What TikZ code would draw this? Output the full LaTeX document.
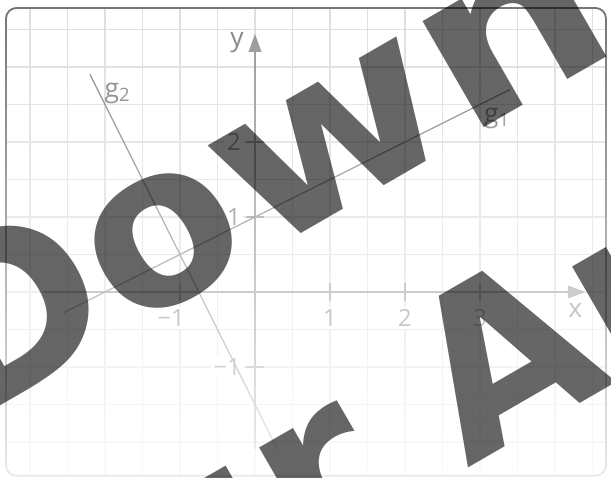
\documentclass[tikz,border=0pt]{standalone}
\usepackage{fontspec}
\setmainfont{Open Sans}
\newfontfamily\wmfont{DejaVu Sans}
\usepackage{xcolor}
\usetikzlibrary{arrows.meta,fadings,positioning}
\definecolor{gridgray}{RGB}{222,222,222}
\definecolor{axisgray}{RGB}{150,150,150}
\definecolor{labelgray}{RGB}{128,128,128}
\definecolor{linegray}{RGB}{130,130,130}
\definecolor{framegray}{RGB}{115,115,115}
\tikzfading[name=fadedown, top color=transparent!100, bottom color=transparent!15]

\begin{document}
\begin{tikzpicture}[
		gridline/.style={gridgray, line width=0.4pt},
		axis/.style={axisgray, line width=0.6pt, -{Triangle[length=2.4mm,width=1.7mm]}},
		tickmark/.style={axisgray, line width=0.5pt},
		ticklabel/.style={labelgray, fill=white, inner sep=1pt, font=\fontsize{9}{9}\selectfont},
		axislabel/.style={labelgray, inner sep=0pt, font=\fontsize{10}{10}\selectfont},
		gline/.style={linegray, line width=0.5pt},
		wm/.style={black, opacity=0.6, inner sep=0pt, anchor=base west, rotate=30, font=\wmfont\bfseries\fontsize{85}{85}\selectfont}]
	\useasboundingbox (-3.4,-2.48) rectangle (4.7467,3.8933);
	\clip (-3.4,-2.48) rectangle (4.7467,3.8933);
	% grid inside the frame
	\begin{scope}
		\clip[rounded corners=4pt] (-3.32,-2.45) rectangle (4.68,3.787);
		\foreach \x in {-3,-2.5,...,4.5} \draw[gridline] (\x,-2.5) -- (\x,3.9);
		\foreach \y in {-2,-1.5,...,3.5} \draw[gridline] (-3.4,\y) -- (4.8,\y);
	\end{scope}
	\draw[framegray, line width=0.7pt, rounded corners=4pt] (-3.32,-2.45) rectangle (4.68,3.787);
	% axes
	\coordinate (xstart) at (-2.83,0);
	\coordinate (xend) at (4.41,0);
	\coordinate (ystart) at (0,-2.1);
	\coordinate (yend) at (0,3.44);
	\draw[axis] (xstart) -- (xend);
	\draw[axis] (ystart) -- (yend);
	\node[axislabel] (xlab) at (4.27,-0.24) {x};
	\node[axislabel] (ylab) at (-0.24,3.32) {y};
	\foreach \x in {-1,1,2,3} \draw[tickmark] (\x,-0.12) -- (\x,0.12);
	\foreach \y in {-1,1,2} \draw[tickmark] (-0.12,\y) -- (0.12,\y);
	\node[ticklabel] (xlm1) at (-1.12,-0.35) {−1};
	\foreach \x in {1,2,3} \node[ticklabel] (xl\x) at (\x,-0.35) {\x};
	\node[ticklabel, anchor=east] (ylm1) at (-0.15,-1) {−1};
	\foreach \y in {1,2} \node[ticklabel, anchor=east] (yl\y) at (-0.15,\y) {\y};
	% lines g1 and g2
	\coordinate (g1a) at (-2.55,-0.275);
	\coordinate (g1b) at (3.4,2.7);
	\coordinate (g2a) at (-2.2,2.9);
	\coordinate (g2b) at (0.3,-2.1);
	\draw[gline] (g1a) -- (g1b);
	\draw[gline] (g2a) -- (g2b);
	\node[axislabel] (g1lab) at (3.23,2.32) {g\textsubscript{1}};
	\node[axislabel] (g2lab) at (-1.83,2.65) {g\textsubscript{2}};
	% fade towards the bottom
	\fill[white, path fading=fadedown] (-3.4,-2.48) rectangle (4.7467,3.8933);
	% watermark
	\node[wm] (wmone) at (-3.85,-1.79) {Do\scalebox{1.14}[1]{w}\scalebox{1.15}[1]{n}load};
	\node[wm] (wmtwo) at (-2.70,-5.55) {zur Ansicht};
\end{tikzpicture}
\end{document}
